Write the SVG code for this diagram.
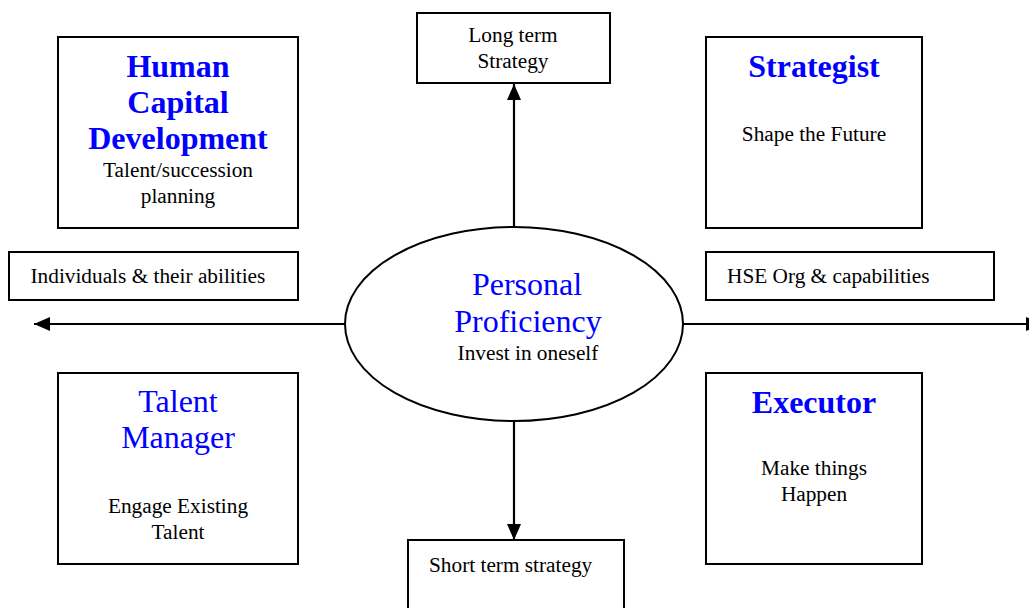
<svg xmlns="http://www.w3.org/2000/svg" width="1029" height="608" viewBox="0 0 1029 608">
<style>
.box{fill:#fff;stroke:#000;stroke-width:2}
.t{font-family:"Liberation Serif","Times New Roman",serif;font-size:21.3px;fill:#000;text-anchor:middle}
.tl{font-family:"Liberation Serif","Times New Roman",serif;font-size:21.3px;fill:#000}
.hb{font-family:"Liberation Serif","Times New Roman",serif;font-size:32px;font-weight:bold;fill:#0000ff;text-anchor:middle}
.hr{font-family:"Liberation Serif","Times New Roman",serif;font-size:32px;fill:#0000ff;text-anchor:middle}
.ln{stroke:#000;stroke-width:2.2;fill:none}
</style>
<defs>
<marker id="ah" viewBox="0 0 16 14" refX="16" refY="7" markerWidth="16" markerHeight="14" markerUnits="userSpaceOnUse" orient="auto">
<path d="M0,0 L16,7 L0,14 Z" fill="#000"/>
</marker>
</defs>
<g id="connectors">
<line class="ln" x1="345" y1="324" x2="34" y2="324" marker-end="url(#ah)"/>
<line class="ln" x1="683" y1="324" x2="1042" y2="324" marker-end="url(#ah)"/>
<line class="ln" x1="514" y1="227" x2="514" y2="84" marker-end="url(#ah)"/>
<line class="ln" x1="514" y1="421" x2="514" y2="540" marker-end="url(#ah)"/>
</g>
<g id="hcd">
<rect class="box" x="58" y="37" width="240" height="191"/>
<text class="hb" x="178" y="77">Human</text>
<text class="hb" x="178" y="113">Capital</text>
<text class="hb" x="178" y="149">Development</text>
<text class="t" x="178" y="177">Talent/succession</text>
<text class="t" x="178" y="203">planning</text>
</g>
<g id="longterm">
<rect class="box" x="417" y="13" width="193" height="70"/>
<text class="t" x="513" y="42">Long term</text>
<text class="t" x="513" y="68">Strategy</text>
</g>
<g id="strategist">
<rect class="box" x="706" y="37" width="216" height="191"/>
<text class="hb" x="814" y="77">Strategist</text>
<text class="t" x="814" y="141">Shape the Future</text>
</g>
<g id="individuals">
<rect class="box" x="9" y="252" width="289" height="48"/>
<text class="tl" x="30.5" y="283">Individuals &amp; their abilities</text>
</g>
<g id="hse">
<rect class="box" x="706" y="252" width="288" height="48"/>
<text class="tl" x="727" y="283">HSE Org &amp; capabilities</text>
</g>
<g id="personal">
<ellipse cx="514" cy="324" rx="169" ry="97" fill="#fff" stroke="#000" stroke-width="2"/>
<text class="hr" x="527" y="295">Personal</text>
<text class="hr" x="528" y="332">Proficiency</text>
<text class="t" x="528" y="360">Invest in oneself</text>
</g>
<g id="talentmanager">
<rect class="box" x="58" y="373" width="240" height="191"/>
<text class="hr" x="178" y="412">Talent</text>
<text class="hr" x="178" y="448">Manager</text>
<text class="t" x="178" y="513">Engage Existing</text>
<text class="t" x="178" y="539">Talent</text>
</g>
<g id="executor">
<rect class="box" x="706" y="373" width="216" height="191"/>
<text class="hb" x="814" y="413">Executor</text>
<text class="t" x="814" y="475">Make things</text>
<text class="t" x="814" y="501">Happen</text>
</g>
<g id="shortterm">
<rect class="box" x="408" y="540" width="216" height="80"/>
<text class="tl" x="429" y="572">Short term strategy</text>
</g>
</svg>
